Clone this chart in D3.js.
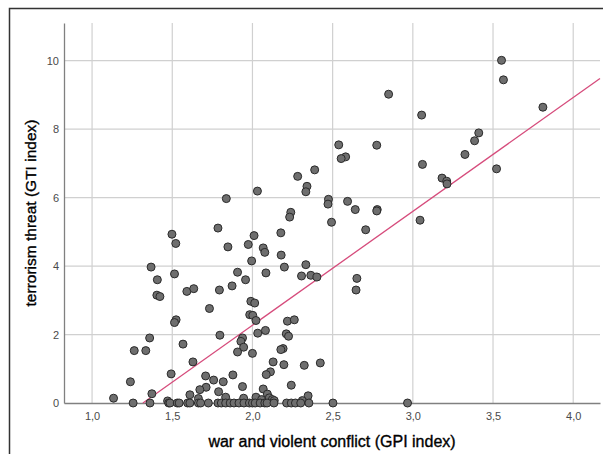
<!DOCTYPE html>
<html>
<head>
<meta charset="utf-8">
<script src="https://cdn.jsdelivr.net/npm/d3@7"></script>
<style>
  body { margin: 0; background: #fff; }
  svg { display: block; font-family: "Liberation Sans", Arial, sans-serif; }
</style>
</head>
<body>
<svg id="chart" width="603" height="454"></svg>
<script>
// GPI index (x) and GTI index (y) per country
var gpi = [3.553, 3.565, 2.849, 3.811, 3.055, 3.411, 3.385, 2.538, 2.775, 3.325,
  2.581, 2.553, 3.060, 3.522, 2.388, 2.282, 3.182, 3.211, 3.213, 2.340,
  2.333, 2.031, 1.837, 2.474, 2.593, 2.471, 2.239, 2.232, 2.641, 2.778,
  2.775, 2.493, 3.045, 2.706, 1.785, 1.498, 2.010, 2.177, 1.522, 1.974,
  1.847, 2.067, 2.077, 2.179, 2.199, 2.333, 1.995, 1.368, 1.407, 1.957,
  1.907, 1.514, 2.084, 2.306, 2.364, 2.402, 2.651, 2.646, 1.404, 1.423,
  1.591, 1.634, 1.794, 1.873, 1.732, 1.990, 2.014, 1.983, 2.002, 2.022,
  1.524, 1.514, 2.218, 2.261, 2.081, 2.033, 2.211, 2.225, 1.797, 1.359,
  1.938, 1.928, 1.567, 1.945, 2.191, 2.177, 1.263, 1.335, 1.907, 2.000,
  1.629, 2.129, 2.196, 2.323, 2.423, 2.112, 2.086, 1.493, 1.708, 1.878,
  1.239, 1.758, 1.818, 2.242, 1.938, 1.711, 1.672, 2.067, 1.789, 1.373,
  1.610, 2.093, 2.347, 1.134, 1.833, 1.663, 1.945, 2.022, 2.105, 2.124,
  2.136, 2.311, 1.471, 2.057,
  1.256, 1.361, 1.478, 1.486, 1.531, 1.543, 1.596, 1.610, 1.663, 1.677,
  1.725, 1.785, 1.806, 1.833, 1.861, 1.885, 1.916, 1.947, 1.981, 2.000,
  2.017, 2.048, 2.077, 2.091, 2.134, 2.213, 2.242, 2.268, 2.301, 2.352,
  2.502, 2.967];

var gti = [10.01, 9.44, 9.02, 8.64, 8.41, 7.89, 7.66, 7.54, 7.53, 7.26,
  7.19, 7.14, 6.97, 6.84, 6.81, 6.62, 6.57, 6.48, 6.40, 6.33,
  6.17, 6.19, 5.97, 5.95, 5.89, 5.81, 5.57, 5.43, 5.65, 5.65,
  5.61, 5.28, 5.34, 5.06, 5.11, 4.93, 4.89, 4.97, 4.66, 4.63,
  4.56, 4.53, 4.40, 4.32, 3.97, 4.04, 4.15, 3.97, 3.60, 3.60,
  3.82, 3.77, 3.80, 3.71, 3.73, 3.68, 3.64, 3.30, 3.15, 3.11,
  3.26, 3.34, 3.30, 3.42, 2.76, 2.97, 2.92, 2.58, 2.56, 2.41,
  2.43, 2.35, 2.39, 2.43, 2.12, 2.04, 2.02, 1.95, 1.98, 1.90,
  1.90, 1.80, 1.72, 1.63, 1.59, 1.56, 1.53, 1.53, 1.49, 1.45,
  1.20, 1.20, 1.12, 1.10, 1.17, 0.91, 0.83, 0.85, 0.79, 0.82,
  0.62, 0.67, 0.62, 0.52, 0.48, 0.46, 0.39, 0.41, 0.33, 0.27,
  0.24, 0.26, 0.21, 0.14, 0.17, 0.13, 0.14, 0.17, 0.15, 0.10,
  0.07, 0.07, 0.06, 0.10,
  0, 0, 0, 0, 0, 0, 0, 0, 0, 0,
  0, 0, 0, 0, 0, 0, 0, 0, 0, 0,
  0, 0, 0, 0, 0, 0, 0, 0, 0, 0,
  0, 0];

// linear fit line (intercept, slope) as drawn
var fitIntercept = -4.38;
var fitSlope = 3.326;

var xTicks = [1.0, 1.5, 2.0, 2.5, 3.0, 3.5, 4.0];
var yTicks = [0, 2, 4, 6, 8, 10];

var svg = d3.select("#chart");
var margin = {left: 64, right: 3, top: 23, bottom: 51};
var width = 603 - margin.left - margin.right;
var height = 454 - margin.top - margin.bottom;

// outer frame (only left and top edges show in the crop)
svg.append("path")
  .attr("d", "M9.5,454V8.5H603")
  .attr("fill", "none")
  .attr("stroke", "#333")
  .attr("stroke-width", 1.5);

var g = svg.append("g")
  .attr("transform", "translate(" + margin.left + "," + margin.top + ")");

var x = d3.scaleLinear()
  .domain([0.825, 4.167])
  .range([0, width]);

var y = d3.scaleLinear()
  .domain([0, 11.1])
  .range([height, 0]);

// grid lines
g.append("g").selectAll("line")
  .data(xTicks)
  .enter().append("line")
  .attr("x1", function(d) { return x(d); })
  .attr("x2", function(d) { return x(d); })
  .attr("y1", 0)
  .attr("y2", height)
  .attr("stroke", "#d0d0d0")
  .attr("stroke-width", 1.2);

g.append("g").selectAll("line")
  .data(yTicks.filter(function(d) { return d > 0; }))
  .enter().append("line")
  .attr("x1", 0)
  .attr("x2", width)
  .attr("y1", function(d) { return y(d); })
  .attr("y2", function(d) { return y(d); })
  .attr("stroke", "#d0d0d0")
  .attr("stroke-width", 1.2);

// axes
var xAxis = d3.axisBottom(x)
  .tickValues(xTicks)
  .tickSize(0)
  .tickPadding(9)
  .tickFormat(function(d) { return d3.format(".1f")(d).replace(".", ","); });

var yAxis = d3.axisLeft(y)
  .tickValues(yTicks)
  .tickSize(0)
  .tickPadding(5)
  .tickFormat(d3.format("d"));

var gx = g.append("g")
  .attr("transform", "translate(0," + height + ")")
  .call(xAxis);

var gy = g.append("g")
  .call(yAxis);

[gx, gy].forEach(function(a) {
  a.select(".domain").attr("stroke", "#808080").attr("stroke-width", 1.3);
  a.selectAll("text").attr("fill", "#4a4a4a").style("font-size", "11px");
});

// fit line, from where it crosses zero to the right edge
var fitX0 = -fitIntercept / fitSlope;
var fitX1 = x.domain()[1];
g.append("line")
  .attr("x1", x(fitX0))
  .attr("y1", y(fitIntercept + fitSlope * fitX0))
  .attr("x2", x(fitX1))
  .attr("y2", y(fitIntercept + fitSlope * fitX1))
  .attr("stroke", "#d64c7c")
  .attr("stroke-width", 1.3);

// points
g.append("g").selectAll("circle")
  .data(d3.range(gpi.length))
  .enter().append("circle")
  .attr("cx", function(i) { return x(gpi[i]); })
  .attr("cy", function(i) { return y(gti[i]); })
  .attr("r", 4)
  .attr("fill", "#6e6e6e")
  .attr("stroke", "#2a2a2a")
  .attr("stroke-width", 1);

// axis titles
svg.append("text")
  .attr("x", margin.left + width / 2)
  .attr("y", 447)
  .attr("text-anchor", "middle")
  .attr("fill", "#000")
  .attr("stroke", "#000")
  .attr("stroke-width", 0.35)
  .style("font-size", "16px")
  .text("war and violent conflict (GPI index)");

svg.append("text")
  .attr("transform", "translate(36," + (margin.top + height / 2) + ") rotate(-90)")
  .attr("text-anchor", "middle")
  .attr("fill", "#000")
  .attr("stroke", "#000")
  .attr("stroke-width", 0.35)
  .style("font-size", "15.5px")
  .text("terrorism threat (GTI index)");
</script>
</body>
</html>
